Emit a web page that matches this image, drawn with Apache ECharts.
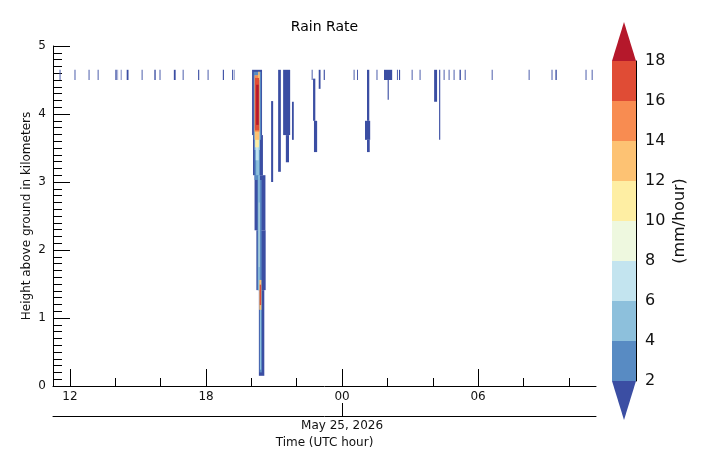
<!DOCTYPE html>
<html><head><meta charset="utf-8">
<script src="https://cdn.jsdelivr.net/npm/echarts@6/dist/echarts.min.js"></script>
<style>html,body{margin:0;padding:0;background:#fff}#c{width:708px;height:466px}</style>
</head><body><div id="c"></div>
<script>
// ---------- DATA ----------
// time in hours since 00 UTC May 24 (24 = 00 UTC May 25); heights in km; rate in mm/hour
const timeMin = 11.25, timeMax = 35.2;
const majorTicks = [12, 18, 24, 30];
const minorTicks = [14, 16, 20, 22, 26, 28, 32, 34];
const dateTick = [24];
const dateLabel = 'May 25, 2026';
// thin echoes near the top of the profile: [tStart, tEnd]
const topBandBase = 4.5, topBandTop = 4.65, topBandRate = 1;
const topBand = [
  [11.54,11.58],[12.20,12.24],[12.82,12.86],[13.22,13.26],[14.00,14.06],[14.10,14.12],
  [14.24,14.27],[14.50,14.58],[15.16,15.20],[15.72,15.78],[15.95,15.99],[16.58,16.66],
  [16.97,17.01],[17.65,17.70],[18.07,18.11],[18.74,18.79],[19.15,19.20],[19.25,19.27],
  [22.66,22.70],[23.19,23.24],[24.51,24.55],[24.66,24.70],[25.52,25.56],[25.85,26.21],
  [26.42,26.46],[26.51,26.56],[27.07,27.11],[27.42,27.46],[28.48,28.52],[28.70,28.74],
  [28.92,28.96],[29.18,29.24],[29.41,29.45],[30.60,30.64],[32.23,32.27],[33.24,33.28],
  [33.41,33.47],[34.74,34.78],[35.01,35.05]
];
// longer light-rain streaks: [tStart, tEnd, zBottom, zTop, rate]
const streaks = [
  [20.87,20.96,3.00,4.19,1],
  [21.18,21.30,3.15,4.65,1],
  [21.40,21.71,3.69,4.65,1],
  [21.52,21.66,3.29,3.69,1],
  [21.79,21.87,3.62,4.18,1],
  [22.72,22.82,3.90,4.52,1],
  [22.76,22.90,3.44,3.90,1],
  [22.97,23.05,4.37,4.65,1],
  [25.10,25.20,3.90,4.65,1],
  [25.01,25.24,3.62,3.90,1],
  [25.10,25.22,3.44,3.62,1],
  [26.01,26.06,4.21,4.50,1],
  [28.06,28.19,4.18,4.65,1],
  [28.28,28.33,3.62,4.65,1]
];
// main convective cell, drawn from outer (weak) to inner (strong)
const storm = [
  [20.03,20.47,3.69,4.65,1],[20.07,20.51,3.10,3.69,1],[20.14,20.62,2.29,3.10,1],
  [20.22,20.63,1.41,2.29,1],[20.33,20.57,0.15,1.41,1],
  [20.10,20.43,3.62,4.62,3],[20.14,20.38,3.03,3.62,3],[20.27,20.45,1.41,3.03,3],
  [20.36,20.46,0.20,1.41,3],
  [20.14,20.38,3.47,4.57,5],[20.21,20.34,3.10,3.47,5],[20.30,20.37,1.41,3.10,5],
  [20.38,20.43,0.24,1.26,5],
  [20.19,20.32,3.32,3.62,7],[20.33,20.35,1.75,2.70,9],
  [20.17,20.33,3.51,3.69,11],[20.15,20.35,3.62,3.79,13],
  [20.14,20.36,3.74,4.57,15],[20.30,20.37,4.50,4.62,13],
  [20.16,20.34,3.76,4.53,17],[20.21,20.32,3.84,4.43,19],
  [20.35,20.44,1.12,1.56,13],[20.37,20.43,1.19,1.49,17]
];
// colour scale
const levels = [2, 4, 6, 8, 10, 12, 14, 16, 18];
const levelColors = ['#3b4ea3','#588bc3','#8dc0dc','#c3e4ef','#eef8df','#feeea3','#fdc273','#f88c51','#e04c35','#b5182b'];
const cbTicks = [2, 4, 6, 8, 10, 12, 14, 16, 18];
const titleText = 'Rain Rate';
const yName = 'Height above ground in kilometers';
const cbName = '(mm/hour)';
const xName = 'Time (UTC hour)';

// ---------- BUILD ----------
function colorFor(r){
  let i = 0;
  while (i < levels.length && r >= levels[i]) i++;
  return levelColors[i];
}
const segs = topBand.map(d => [d[0], d[1], topBandBase, topBandTop, topBandRate])
  .concat(streaks).concat(storm);

function renderSeg(params, api){
  const p0 = api.coord([api.value(0), api.value(3)]);
  const p1 = api.coord([api.value(1), api.value(2)]);
  return {type:'rect', shape:{x:p0[0], y:p0[1], width:p1[0]-p0[0], height:p1[1]-p0[1]},
          style:{fill: colorFor(api.value(4))}};
}
// colorbar items: [lo, hi, colorIndex, kind] kind 0 rect, 1 top triangle, 2 bottom triangle
const cbData = [];
for (let i = 0; i < levels.length - 1; i++) cbData.push([levels[i], levels[i+1], i+1, 0]);
cbData.push([levels[levels.length-1], levels[levels.length-1] + 1.95, levelColors.length-1, 1]);
cbData.push([levels[0] - 1.95, levels[0], 0, 2]);
function renderCb(params, api){
  const lo = api.value(0), hi = api.value(1), ci = api.value(2), kind = api.value(3);
  const a = api.coord([0, hi]), b = api.coord([1, lo]);
  const fill = levelColors[ci];
  if (kind === 0) return {type:'rect', shape:{x:a[0], y:a[1], width:b[0]-a[0], height:b[1]-a[1]}, style:{fill}};
  const mid = (a[0]+b[0])/2;
  const pts = kind === 1 ? [[a[0],b[1]],[b[0],b[1]],[mid,a[1]]] : [[a[0],a[1]],[b[0],a[1]],[mid,b[1]]];
  return {type:'polygon', shape:{points:pts}, style:{fill}};
}
const pad = v => { const h = ((v % 24) + 24) % 24; return (h < 10 ? '0' : '') + h; };
const FONT = 'DejaVu Sans';
const black = '#000';

const chart = echarts.init(document.getElementById('c'), null, {renderer:'canvas'});
chart.setOption({
  backgroundColor:'#fff',
  animation:false,
  textStyle:{fontFamily:FONT},
  graphic:[
    {type:'text', x:324.5, y:27, style:{text:titleText, font:'14px "DejaVu Sans"', fill:'#000', textAlign:'center', textVerticalAlign:'middle'}},
    {type:'text', x:27, y:216, rotation:Math.PI/2, style:{text:yName, font:'12px "DejaVu Sans"', fill:'#111', textAlign:'center', textVerticalAlign:'middle'}},
    {type:'text', x:680, y:221, rotation:Math.PI/2, style:{text:cbName, font:'16px "DejaVu Sans"', fill:'#111', textAlign:'center', textVerticalAlign:'middle'}}
  ],
  grid:[
    {left:53, top:46, width:543, height:340},
    {left:612, top:61, width:24, height:320}
  ],
  xAxis:[
    {type:'value', gridIndex:0, min:timeMin, max:timeMax, position:'bottom',
     axisLine:{show:true, onZero:false, lineStyle:{color:black, width:1}},
     axisTick:{show:true, inside:true, length:17, customValues:majorTicks, lineStyle:{color:black}},
     axisLabel:{show:true, customValues:majorTicks, formatter:pad, fontSize:12, color:'#111', margin:5, fontFamily:FONT},
     splitLine:{show:false}},
    {type:'value', gridIndex:0, min:timeMin, max:timeMax, position:'bottom',
     axisLine:{show:false},
     axisTick:{show:true, inside:true, length:8, customValues:minorTicks, lineStyle:{color:black}},
     axisLabel:{show:false}, splitLine:{show:false}},
    {type:'value', gridIndex:0, min:timeMin, max:timeMax, position:'bottom', offset:30,
     axisLine:{show:true, onZero:false, lineStyle:{color:black, width:1}},
     axisTick:{show:true, inside:true, length:13, customValues:dateTick, lineStyle:{color:black}},
     axisLabel:{show:true, customValues:dateTick, formatter:() => dateLabel, fontSize:12, color:'#111', margin:4, fontFamily:FONT},
     name:xName, nameLocation:'middle', nameGap:18,
     nameTextStyle:{fontSize:12, color:'#111', fontFamily:FONT},
     splitLine:{show:false}},
    {type:'value', gridIndex:1, min:0, max:1, show:false}
  ],
  yAxis:[
    {type:'value', gridIndex:0, min:0, max:5, interval:1, position:'left',
     axisLine:{show:true, onZero:false, lineStyle:{color:black, width:1}},
     axisTick:{show:true, inside:true, length:17, lineStyle:{color:black}},
     minorTick:{show:true, splitNumber:10, length:9, lineStyle:{color:black}},
     axisLabel:{fontSize:12, color:'#111', margin:7, fontFamily:FONT},
     splitLine:{show:false}},
    {type:'value', gridIndex:1, min:2, max:18, interval:2, position:'right',
     axisLine:{show:true, onZero:false, lineStyle:{color:black, width:1}},
     axisTick:{show:false},
     axisLabel:{fontSize:16, color:'#111', margin:9, fontFamily:FONT, customValues:cbTicks},
     splitLine:{show:false}}
  ],
  series:[
    {type:'custom', xAxisIndex:0, yAxisIndex:0, renderItem:renderSeg, data:segs,
     encode:{x:[0,1], y:[2,3]}, clip:true, silent:true},
    {type:'custom', xAxisIndex:3, yAxisIndex:1, renderItem:renderCb, data:cbData,
     encode:{y:[0,1]}, clip:false, silent:true, z:1}
  ]
});
</script></body></html>
